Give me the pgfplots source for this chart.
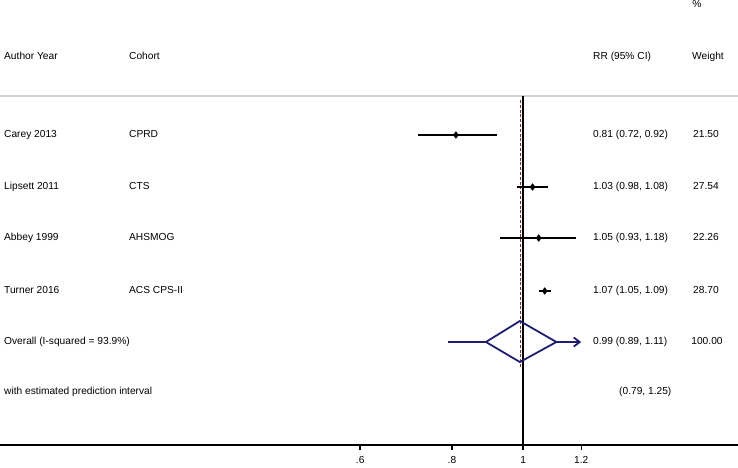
\documentclass[border=0pt]{standalone}
\usepackage{pgfplots}
\pgfplotsset{compat=1.18}
\usetikzlibrary{arrows.meta}
\usepackage{fontspec}
\setmainfont{Liberation Sans}
\definecolor{navyd}{RGB}{30,30,110}
\definecolor{maroond}{RGB}{120,55,55}
\newcommand{\T}[4][mid west]{\node[anchor=#1,inner sep=0pt] at (rel axis cs:{#2/738},{#3/445}) {#4};}
\begin{document}
\fontsize{10.2}{12}\selectfont
\begin{tikzpicture}
\useasboundingbox (0,-22pt) rectangle (738pt,445pt);
\begin{axis}[
  at={(0,0)}, anchor=south west,
  scale only axis, width=738pt, height=445pt,
  xmode=log, xmin=0.1940, xmax=1.962,
  ymin=0, ymax=445,
  axis x line*=bottom, axis y line=none,
  xtick={0.6,0.8,1,1.2}, xticklabels={.6,.8,1,1.2},
  xminorticks=false,
  tick align=outside, major tick length=5pt,
  x axis line style={line width=1.4pt, black},
  xtick style={line width=1.4pt, black},
  xticklabel style={font=\fontsize{10.2}{12}\selectfont, yshift=-3pt},
  clip=false,
]
% separator
\addplot[gray!35, line width=1.3pt] coordinates {(0.1940,349) (1.962,349)};
% null line
\addplot[black, line width=1.4pt] coordinates {(1,0) (1,349)};
% overall effect line
\addplot[maroond, line width=1.4pt, dash pattern=on 3pt off 1.8pt] coordinates {(0.992,78) (0.992,345)};
% study CIs
\addplot[black, line width=1.8pt] coordinates {(0.72,310) (0.92,310)};
\addplot[black, line width=1.8pt] coordinates {(0.98,258) (1.08,258)};
\addplot[black, line width=1.8pt] coordinates {(0.93,207) (1.18,207)};
\addplot[black, line width=1.8pt] coordinates {(1.05,154) (1.09,154)};
% point estimates
\addplot[only marks, mark=diamond*, mark size=3.4pt, black] coordinates {(0.81,310) (1.03,258) (1.05,207) (1.07,154)};
% prediction interval
\addplot[navyd, line width=1.8pt] coordinates {(0.79,103) (0.89,103)};
\addplot[navyd, line width=1.8pt, -{Straight Barb[length=6pt,width=9pt]}] coordinates {(1.11,103) (1.2,103)};
% overall diamond
\addplot[navyd, line width=1.8pt, line join=miter] coordinates {(0.89,103) (0.99,124) (1.11,103) (0.99,83)} -- cycle;
% texts
\T[center]{697}{441}{\%}
\T{4}{388}{Author Year}
\T{129}{388}{Cohort}
\T{593}{388}{RR (95\% CI)}
\T[mid]{708}{388}{Weight}
\T{4}{310}{Carey 2013}
\T{129}{310}{CPRD}
\T{593}{310}{0.81 (0.72, 0.92)}
\T[mid]{706}{310}{21.50}
\T{4}{258}{Lipsett 2011}
\T{129}{258}{CTS}
\T{593}{258}{1.03 (0.98, 1.08)}
\T[mid]{706}{258}{27.54}
\T{4}{207}{Abbey 1999}
\T{129}{207}{AHSMOG}
\T{593}{207}{1.05 (0.93, 1.18)}
\T[mid]{706}{207}{22.26}
\T{4}{154}{Turner 2016}
\T{129}{154}{ACS CPS-II}
\T{593}{154}{1.07 (1.05, 1.09)}
\T[mid]{706}{154}{28.70}
\T{4}{103}{Overall (I-squared = 93.9\%)}
\T{593}{103}{0.99 (0.89, 1.11)}
\T[mid]{707}{103}{100.00}
\T{4}{53}{with estimated prediction interval}
\T{619}{53}{(0.79, 1.25)}
\end{axis}
\end{tikzpicture}
\end{document}
